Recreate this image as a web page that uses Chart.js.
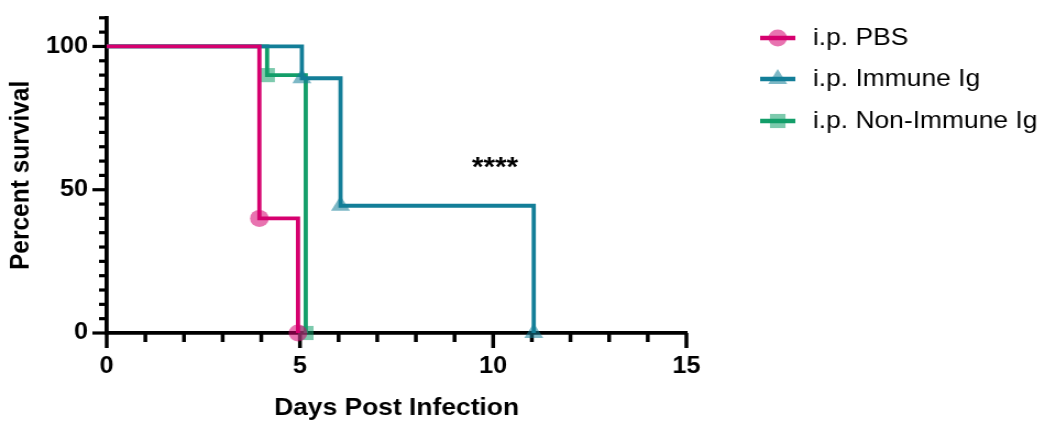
<!DOCTYPE html>
<html><head><meta charset="utf-8">
<script src="https://cdn.jsdelivr.net/npm/chart.js@4.4.1/dist/chart.umd.min.js"></script>
<style>
html,body{margin:0;padding:0;background:#fff;overflow:hidden;}
#wrap{position:absolute;left:0;top:0;width:950px;height:422px;transform:scaleX(1.1);transform-origin:0 0;}
</style></head><body>
<div id="wrap"><canvas id="c"></canvas></div>
<script>
// ---- data (Kaplan-Meier steps: day of event, survival after event) ----
const seriesLabels = ['i.p. PBS', 'i.p. Immune Ig', 'i.p. Non-Immune Ig'];
const pbsDays = [0, 3.95, 4.95];
const pbsSurvival = [100, 40, 0];
const immuneDays = [0, 5.05, 6.05, 11.05];
const immuneSurvival = [100, 88.9, 44.4, 0];
const nonImmuneDays = [0, 4.15, 5.15];
const nonImmuneSurvival = [100, 90, 0];
const xTickLabels = [0, 5, 10, 15];
const yTickLabels = [0, 50, 100];
const significanceText = '****';
const significanceAt = {x: 10.05, y: 57.5};

const FONT = '"Liberation Sans", Arial, sans-serif';
const colors = ['#D6006F', '#137E98', '#139E69'];
const markerColors = ['rgba(214,0,111,0.55)', 'rgba(19,126,152,0.55)', 'rgba(19,158,105,0.55)'];
const markerStyles = ['circle', 'triangle', 'rect'];
const markerRadius = [8.5, 10, 10];

function pts(xs, ys) { return xs.map((x, i) => ({x: x, y: ys[i]})); }
const allSeries = [pts(pbsDays, pbsSurvival), pts(immuneDays, immuneSurvival), pts(nonImmuneDays, nonImmuneSurvival)];

const datasets = allSeries.map((d, i) => ({
  label: seriesLabels[i],
  data: d,
  borderColor: colors[i],
  backgroundColor: markerColors[i],
  pointBackgroundColor: markerColors[i],
  pointBorderWidth: 0,
  pointStyle: markerStyles[i],
  pointRadius: ctx => ctx.dataIndex === 0 ? 0 : markerRadius[i],
  pointHoverRadius: ctx => ctx.dataIndex === 0 ? 0 : markerRadius[i],
  stepped: true,
  borderWidth: 3.8,
  fill: false,
  clip: false
}));

const tickPlugin = {
  id: 'ticks',
  beforeDatasetsDraw(chart) {
    const ctx = chart.ctx, xs = chart.scales.x, ys = chart.scales.y;
    ctx.save();
    ctx.strokeStyle = '#000';
    ctx.lineWidth = 3.5;
    xs.ticks.forEach((t, i) => {
      const px = xs.getPixelForTick(i);
      const len = xTickLabels.includes(t.value) ? 15 : 9;
      ctx.beginPath();
      ctx.moveTo(px, chart.chartArea.bottom);
      ctx.lineTo(px, chart.chartArea.bottom + len);
      ctx.stroke();
    });
    ctx.lineWidth = 3.2;
    ys.ticks.forEach((t, i) => {
      const py = ys.getPixelForTick(i);
      const len = yTickLabels.includes(t.value) ? 13 : 7;
      ctx.beginPath();
      ctx.moveTo(chart.chartArea.left, py);
      ctx.lineTo(chart.chartArea.left - len, py);
      ctx.stroke();
    });
    ctx.restore();
  },
  afterDatasetsDraw(chart) {
    const ctx = chart.ctx;
    ctx.save();
    ctx.fillStyle = '#000';
    ctx.font = 'bold 27px ' + FONT;
    ctx.textAlign = 'center';
    ctx.textBaseline = 'middle';
    ctx.fillText(significanceText, chart.scales.x.getPixelForValue(significanceAt.x), chart.scales.y.getPixelForValue(significanceAt.y));
    // legend
    const rows = [38, 79, 121];
    chart.data.datasets.forEach((ds, i) => {
      const y = rows[i];
      ctx.strokeStyle = colors[i];
      ctx.lineWidth = 4.5;
      ctx.beginPath();
      ctx.moveTo(691, y);
      ctx.lineTo(723, y);
      ctx.stroke();
      ctx.fillStyle = markerColors[i];
      Chart.helpers.drawPoint(ctx, {pointStyle: markerStyles[i], radius: markerRadius[i], rotation: 0, borderWidth: 0}, 707, y);
      ctx.fillStyle = '#000';
      ctx.font = '24px ' + FONT;
      ctx.textAlign = 'left';
      ctx.textBaseline = 'middle';
      ctx.fillText(ds.label, 739, y);
    });
    ctx.restore();
  }
};

new Chart(document.getElementById('c'), {
  type: 'line',
  data: {datasets: datasets},
  plugins: [tickPlugin],
  options: {
    responsive: true,
    maintainAspectRatio: false,
    animation: false,
    devicePixelRatio: 1,
    layout: {padding: {top: 16, right: 326, bottom: 0, left: 0}},
    plugins: {legend: {display: false}, tooltip: {enabled: false}},
    scales: {
      x: {
        type: 'linear', min: 0, max: 15,
        ticks: {stepSize: 1, autoSkip: false, maxRotation: 0, color: '#000', padding: 6,
          font: {family: FONT, size: 23, weight: 'bold'},
          callback: v => xTickLabels.includes(v) ? String(v) : ''},
        grid: {display: true, drawOnChartArea: false, tickLength: 14, tickColor: 'rgba(0,0,0,0)'},
        border: {display: true, color: '#000', width: 3.8},
        title: {display: true, text: 'Days Post Infection', color: '#000',
          font: {family: FONT, size: 24, weight: 'bold', lineHeight: 1.1}, padding: {top: 0, bottom: 0}},
        afterFit: s => { s.height = 89; }
      },
      y: {
        type: 'linear', min: 0, max: 110,
        ticks: {stepSize: 5, autoSkip: false, color: '#000', padding: 4,
          font: {family: FONT, size: 23, weight: 'bold'},
          callback: v => yTickLabels.includes(v) ? String(v) : ''},
        grid: {display: true, drawOnChartArea: false, tickLength: 13, tickColor: 'rgba(0,0,0,0)'},
        border: {display: true, color: '#000', width: 3.8},
        title: {display: true, text: 'Percent survival', color: '#000',
          font: {family: FONT, size: 24.5, weight: 'bold'}, padding: {top: 5, bottom: 0}},
        afterFit: s => { s.width = 97; }
      }
    }
  }
});
</script>
</body></html>
